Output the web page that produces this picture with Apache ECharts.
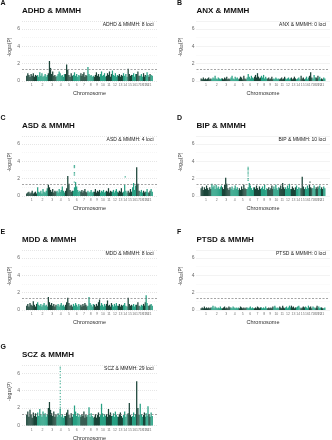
<!DOCTYPE html>
<html><head><meta charset="utf-8">
<script src="https://cdn.jsdelivr.net/npm/echarts@6/dist/echarts.min.js"></script>
<style>html,body{margin:0;padding:0;background:#fff}#c{width:332px;height:440px}</style>
</head><body><div id="c"></div>
<script>
const CHROMOSOMES = ['1','2','3','4','5','6','7','8','9','10','11','12','13','14','15','16','17','18','19','20','21','22'];
const CHR_LENGTH_MB = [249,243,198,191,181,171,159,146,141,136,135,134,115,107,103,90,81,78,59,63,48,51];
const Y_TICKS = [0,2,4,6];
const THRESHOLD = 1.3;

// -log10(P) envelope per chromosome (evenly spread along each chromosome)
const adhd = [
 [0.6,0.9,0.7,0.5,0.8,0.6,0.9,0.5,0.7,0.6],[0.7,0.5,1.0,0.6,0.9,0.5,0.6,0.8,0.5,0.7],
 [0.9,2.3,1.5,0.8,1.1,0.6,0.7,0.5],[0.6,0.8,1.1,0.9,0.6,0.7,0.5,0.8],
 [0.8,1.9,1.3,0.7,0.5,0.9,0.6],[0.7,1.0,0.6,0.8,0.5,0.7,0.6],[0.9,0.6,0.8,1.0,0.5,0.7,0.6],
 [1.6,0.8,0.6,0.7,0.5,0.6],[0.5,0.7,1.0,0.6,0.8,0.5],[0.8,1.1,0.6,0.7,0.9,0.5],
 [0.6,0.9,0.7,1.1,0.5,0.8],[1.2,0.7,0.6,0.9,0.5,0.7],[0.6,0.8,0.5,0.7,0.6],
 [0.9,0.6,0.8,0.5],[1.4,0.8,0.6,0.7],[0.7,0.9,0.5,0.8],[0.8,1.1,0.6],[0.6,0.8,0.5],
 [0.9,0.5,0.7],[0.6,1.0,0.7],[0.5,0.8],[0.7,0.6]
];
const anx = [
 [0.3,0.2,0.4,0.2,0.3,0.2,0.3,0.4,0.2,0.3],[0.2,0.4,0.3,0.6,0.3,0.2,0.4,0.3,0.2,0.3],
 [0.3,0.2,0.4,0.3,0.5,0.2,0.3,0.2],[0.4,0.6,0.3,0.2,0.5,0.3,0.4,0.2],
 [0.3,0.5,0.4,0.2,0.6,0.3,0.2],[0.4,0.8,0.5,0.3,0.6,0.4,0.3],[0.5,0.7,0.4,0.9,0.5,0.3,0.4],
 [0.6,0.4,0.7,0.3,0.5,0.3],[0.3,0.4,0.2,0.3,0.5,0.2],[0.3,0.2,0.4,0.3,0.2,0.3],
 [0.2,0.3,0.4,0.2,0.3,0.5],[0.3,0.2,0.3,0.4,0.2,0.3],[0.4,0.2,0.3,0.5,0.3],
 [0.2,0.3,0.4,0.2],[0.6,0.3,0.4,0.2],[0.3,0.5,0.2,0.4],[0.6,1.0,0.4],[0.3,0.7,0.4],
 [0.4,0.3,0.6],[0.3,0.5,0.2],[0.3,0.2],[0.4,0.3]
];
const asd = [
 [0.3,0.4,0.5,0.3,0.4,0.6,0.3,0.4,0.5,0.3],[1.0,0.5,0.4,0.6,0.3,0.8,0.5,0.4,0.6,0.9],
 [1.3,1.0,0.7,0.5,0.8,0.4,0.6,0.5],[0.6,0.4,0.8,0.5,0.7,1.1,0.6,0.4],
 [0.6,0.9,2.3,1.4,0.7,0.5,0.6],[0.6,1.0,1.6,1.1,0.7,0.5,0.6],[0.5,0.7,0.4,0.6,0.8,0.5,0.4],
 [0.6,0.4,0.5,0.7,0.4,0.5],[0.5,0.8,0.4,0.6,0.5,0.7],[0.4,0.6,0.5,0.7,0.4,0.5],
 [0.6,0.5,0.9,0.4,0.6,0.5],[0.5,0.7,0.4,0.6,0.8,0.5],[0.4,0.6,0.5,0.9,0.4],
 [0.5,1.3,0.6,0.4],[0.6,0.4,0.8,0.5],[1.0,1.5,0.7,1.2],[3.3,1.4,0.6],[0.5,0.7,0.4],
 [0.6,0.4,0.5],[0.5,0.8,0.4],[0.4,0.6],[0.8,0.5]
];
const bip = [
 [0.9,1.1,0.7,1.0,0.8,1.2,0.9,0.7,1.0,0.8],[1.4,1.0,1.2,0.8,1.3,0.9,1.1,0.8,1.0,1.2],
 [1.0,0.8,1.3,2.1,1.4,0.9,0.7,1.0],[0.8,1.1,0.7,0.9,1.2,0.8,1.0,0.7],
 [0.9,0.7,1.1,0.8,1.3,0.9,0.8],[0.8,1.0,1.5,1.2,0.9,0.7,1.0],[1.0,0.8,1.2,0.9,0.7,1.1,0.8],
 [0.9,1.1,0.8,1.3,0.7,0.9],[0.8,1.0,0.7,0.9,1.2,0.8],[1.1,0.8,1.3,0.9,0.7,1.0],
 [0.9,1.2,0.8,1.5,1.0,0.8],[1.0,0.8,1.2,0.9,1.4,0.8],[0.8,1.1,0.9,0.7,1.0],
 [1.2,0.8,1.0,0.9],[0.9,2.2,1.1,0.8],[1.0,0.8,1.2,0.9],[1.3,1.0,0.9],[0.9,1.2,0.8],
 [1.0,0.8,1.1],[0.9,1.2,0.8],[1.0,0.8],[1.1,0.9]
];
const mdd = [
 [0.5,0.7,0.4,0.8,0.6,0.5,1.0,0.6,0.4,0.7],[0.9,0.6,0.5,0.7,0.4,0.6,0.8,0.5,0.6,0.4],
 [1.5,0.9,0.6,0.8,0.5,0.7,0.4,0.6],[0.5,0.7,0.4,0.6,0.8,0.5,0.6,0.4],
 [0.6,0.9,1.4,0.8,0.5,0.6,0.4],[0.7,0.5,0.8,0.6,0.4,0.7,0.5],[0.6,0.4,0.7,0.5,0.8,0.6,0.4],
 [0.5,1.5,0.8,0.6,0.4,0.7],[0.6,0.4,0.7,0.5,0.9,1.2],[0.5,0.8,0.6,0.4,0.7,0.5],
 [0.7,1.1,0.5,0.6,0.4,0.8],[0.6,0.4,0.7,0.5,0.8,0.5],[0.5,0.7,0.4,0.6,0.5],
 [0.6,0.8,0.5,0.4],[1.4,0.7,0.5,0.6],[0.5,0.7,0.4,0.6],[0.6,0.9,0.5],[0.4,0.6,0.5],
 [0.7,0.5,0.9],[1.7,0.8,0.5],[0.5,0.6],[0.7,0.5]
];
const ptsd = [
 [0.2,0.3,0.2,0.4,0.2,0.3,0.2,0.3,0.2,0.3],[0.3,0.5,0.2,0.4,0.3,0.2,0.3,0.2,0.4,0.2],
 [0.2,0.3,0.4,0.2,0.3,0.2,0.4,0.3],[0.3,0.2,0.4,0.3,0.2,0.3,0.2,0.3],
 [0.2,0.4,0.3,0.2,0.3,0.2,0.3],[0.3,0.2,0.3,0.4,0.2,0.3,0.2],[0.2,0.3,0.2,0.4,0.3,0.2,0.3],
 [0.3,0.2,0.3,0.2,0.4,0.2],[0.2,0.3,0.2,0.3,0.2,0.4],[0.3,0.5,0.3,0.2,0.3,0.2],
 [0.4,0.3,0.2,0.5,0.3,0.2],[0.3,0.4,0.2,0.3,0.5,0.3],[0.5,0.3,0.4,0.2,0.3],
 [0.3,0.4,0.5,0.3],[0.2,0.3,0.4,0.3],[0.4,0.3,0.2,0.5],[0.3,0.4,0.2],[0.4,0.3,0.2],
 [0.3,0.5,0.2],[0.4,0.2,0.3],[0.3,0.2],[0.2,0.3]
];
const scz = [
 [1.2,1.6,1.0,1.8,1.3,0.9,1.5,1.1,1.4,1.0],[1.5,1.1,1.9,1.3,1.0,1.6,1.2,1.4,1.0,1.3],
 [2.0,2.7,1.8,1.4,1.1,1.6,1.0,1.3],[1.0,1.4,1.2,1.9,1.0,1.3,0.9,1.1],
 [1.1,1.5,1.8,1.2,0.9,1.4,1.0],[1.3,2.3,1.6,1.1,1.4,1.0,1.2],[1.0,1.3,1.1,1.6,0.9,1.2,1.0],
 [1.2,2.1,1.0,1.4,1.1,0.9],[1.0,1.3,0.9,1.2,1.5,1.0],[1.2,2.5,1.4,1.0,1.3,1.1],
 [1.3,1.0,1.9,1.2,1.5,1.1],[1.1,1.4,1.0,1.6,1.2,1.0],[1.0,1.3,1.5,1.1,0.9],
 [1.2,1.6,1.0,1.3],[1.4,2.6,1.2,1.0],[1.1,1.5,1.0,1.3],[5.1,2.0,1.2],[2.5,1.3,1.0],
 [1.2,1.5,1.0],[1.4,1.1,2.2],[1.3,1.0],[1.5,1.1]
];
// isolated SNP points: [chromosome, relative position in chromosome, -log10(P)]
const asdHits = [[6,0.2,3.5],[6,0.2,3.38],[6,0.2,3.26],[6,0.2,2.7],[6,0.2,2.55],[6,0.2,2.4],[6,0.2,1.6],[14,0.5,2.2]];
const bipHits = [[6,0.2,3.3],[6,0.2,3.15],[6,0.2,3.0],[6,0.2,2.75],[6,0.2,2.55],[6,0.2,2.3],[6,0.2,2.0],[6,0.2,1.8],[17,0.3,1.6]];
const sczHits = [[4,0.45,6.7],[4,0.45,6.5],[4,0.45,6.2],[4,0.45,5.8],[4,0.45,5.5],[4,0.45,5.1],[4,0.45,4.8],[4,0.45,4.4],[4,0.45,4.0],[4,0.45,3.7],[4,0.45,3.3],[4,0.45,3.0],[4,0.45,2.7],[4,0.45,2.4],[4,0.45,2.1],[4,0.45,1.9]];

const PANELS = [
 {letter:'A', title:'ADHD & MMMH', note:'ADHD & MMMH: 8 loci', vals:adhd, hits:[]},
 {letter:'B', title:'ANX & MMMH', note:'ANX & MMMH: 0 loci', vals:anx, hits:[]},
 {letter:'C', title:'ASD & MMMH', note:'ASD & MMMH: 4 loci', vals:asd, hits:asdHits},
 {letter:'D', title:'BIP & MMMH', note:'BIP & MMMH: 10 loci', vals:bip, hits:bipHits},
 {letter:'E', title:'MDD & MMMH', note:'MDD & MMMH: 8 loci', vals:mdd, hits:[]},
 {letter:'F', title:'PTSD & MMMH', note:'PTSD & MMMH: 0 loci', vals:ptsd, hits:[]},
 {letter:'G', title:'SCZ & MMMH', note:'SCZ & MMMH: 29 loci', vals:scz, hits:sczHits}
];

const DARK = '#1a4438', TEAL = '#27a083';
const FONT = 'Liberation Sans, Arial, Helvetica, sans-serif';
const starts = []; let acc = 0;
CHR_LENGTH_MB.forEach(l => { starts.push(acc); acc += l; });
const GENOME = acc;
const centers = CHR_LENGTH_MB.map((l, i) => starts[i] + l / 2);

const COLS = [{left:22, right:157, letterX:0.5, ylab:9.5},{left:196.5, right:329.5, letterX:177, ylab:181}];
const ROW_Y0 = [81, 196, 310, 425.5];
const GRID_H = 60, YMAX = 6.9;

const grid = [], xAxis = [], yAxis = [], series = [], graphic = [];
PANELS.forEach((p, i) => {
  const c = COLS[i % 2], y0 = ROW_Y0[Math.floor(i / 2)];
  grid.push({left: c.left, top: y0 - GRID_H, width: c.right - c.left, height: GRID_H, containLabel: false});
  xAxis.push({type:'value', gridIndex:i, min:-95, max:GENOME + 95,
    axisLine:{show:false}, axisTick:{show:false}, splitLine:{show:false},
    axisLabel:{show:true, customValues:centers, fontSize:3.5, color:'#777', margin:2.5, fontFamily:FONT,
      formatter:(v) => { let b = 0, d = 1e9; centers.forEach((cc, k) => { if (Math.abs(cc - v) < d) { d = Math.abs(cc - v); b = k; } }); return CHROMOSOMES[b]; }}});
  yAxis.push({type:'value', gridIndex:i, min:0, max:YMAX, interval:2,
    axisLine:{show:false}, axisTick:{show:false},
    axisLabel:{customValues:Y_TICKS, fontSize:5, color:'#6a6a6a', margin:2, fontFamily:FONT},
    splitLine:{show:true, lineStyle:{color:'#d6d6d6', type:[1,1], width:0.6}},
    minorTick:{show:false, splitNumber:2},
    minorSplitLine:{show:true, lineStyle:{color:'#ececec', type:[1,1], width:0.5}}});
  const bars = [];
  p.vals.forEach((arr, ci) => {
    arr.forEach((v, k) => bars.push([starts[ci] + (k + 0.5) / arr.length * CHR_LENGTH_MB[ci], v, ci]));
  });
  series.push({type:'bar', xAxisIndex:i, yAxisIndex:i, data:bars, barWidth:1.25, silent:true,
    itemStyle:{color:(pp) => pp.data[2] % 2 === 0 ? DARK : TEAL},
    markLine:{silent:true, symbol:'none', label:{show:false},
      lineStyle:{color:'#666', type:[2,1.5], width:0.6}, data:[{yAxis:THRESHOLD}]}});
  if (p.hits.length) {
    series.push({type:'scatter', xAxisIndex:i, yAxisIndex:i, symbol:'rect', symbolSize:[1.4,1.1], silent:true,
      data:p.hits.map(h => [starts[h[0]-1] + h[1] * CHR_LENGTH_MB[h[0]-1], h[2], h[0]-1]),
      itemStyle:{color:(pp) => pp.data[2] % 2 === 0 ? DARK : TEAL}});
  }
  graphic.push({type:'text', x:c.letterX, y:y0 - 78, style:{text:p.letter, font:'bold 7px ' + FONT, fill:'#111', verticalAlign:'middle', align:'left'}});
  graphic.push({type:'text', x:c.left, y:y0 - 70.5, style:{text:p.title, font:'bold 8px ' + FONT, fill:'#111', verticalAlign:'middle', align:'left'}});
  graphic.push({type:'text', x:c.right - 3.5, y:y0 - 56.5, style:{text:p.note, font:'5px ' + FONT, fill:'#222', verticalAlign:'middle', align:'right'}});
  graphic.push({type:'text', x:(c.left + c.right) / 2, y:y0 + 12.5, style:{text:'Chromosome', font:'5.5px ' + FONT, fill:'#333', verticalAlign:'middle', align:'center'}});
  graphic.push({type:'text', x:c.ylab, y:y0 - 34, rotation:Math.PI / 2,
    style:{text:'-log{s|10}(P)', font:'5px ' + FONT, fill:'#333', verticalAlign:'middle', align:'center',
      rich:{s:{fontSize:3.5, fontFamily:FONT, fill:'#333', verticalAlign:'bottom', padding:[2,0,0,0]}}}});
});

const chart = echarts.init(document.getElementById('c'), null, {renderer:'canvas'});
chart.setOption({animation:false, backgroundColor:'#fff', grid, xAxis, yAxis, series, graphic});
</script></body></html>
